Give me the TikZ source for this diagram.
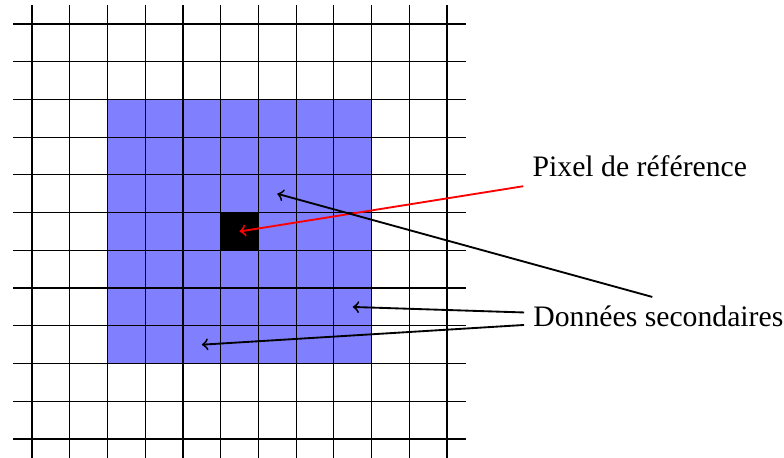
\documentclass[tikz,border=0pt]{standalone}
\usepackage{fontspec}
\setmainfont{Liberation Serif}
\begin{document}
\begin{tikzpicture}[x=0.5cm,y=0.5cm,
  lbl/.style={font=\fontsize{11.2}{13}\selectfont, inner sep=0.3333em},
  arr/.style={->, line width=0.7pt},
  gridline/.style={line width=0.45pt, black}]
\useasboundingbox (-0.848,-0.477) rectangle (19.93,11.635);
\fill[blue!50] (2,2) rectangle (9,9);
\fill[black] (5,5) rectangle (6,6);
\draw[gridline, step=0.5cm] (-0.5,-0.5) grid (11.5,11.5);
\coordinate (pref) at (5.5,5.5);
\coordinate (pa) at (6.5,6.5);
\coordinate (pb) at (8.5,3.5);
\coordinate (pc) at (4.5,2.5);
\node[lbl, anchor=south west] (ref) at (13.02,6.70) {Pixel de référence};
\node[lbl, anchor=base west] (sec) at (13.04,2.97) {Données secondaires};
\draw[arr, red] (ref.south west) -- (pref);
\draw[arr] ([xshift=-2.3pt]sec.north) -- (pa);
\draw[arr] (sec) -- (pb);
\draw[arr] (sec) -- (pc);
\end{tikzpicture}
\end{document}
